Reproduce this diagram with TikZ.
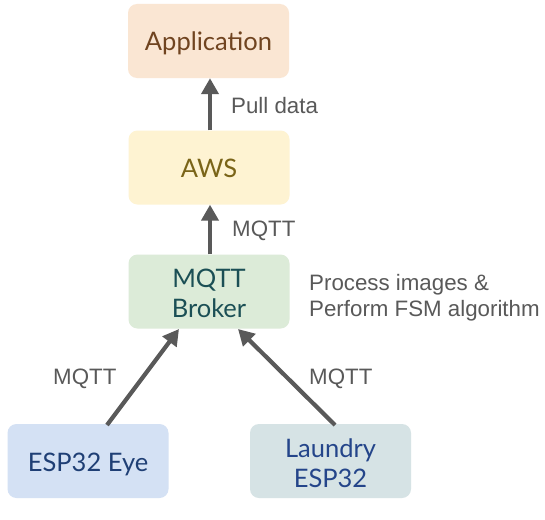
\documentclass[tikz,border=0pt]{standalone}
\usepackage{fontspec}
\setmainfont{Liberation Sans}
\newfontfamily\boxfont{Lato}
\usetikzlibrary{arrows.meta}
\definecolor{arrowgray}{HTML}{595959}
\definecolor{appfill}{HTML}{FAE6D3}
\definecolor{apptext}{HTML}{704420}
\definecolor{awsfill}{HTML}{FEF3D2}
\definecolor{awstext}{HTML}{7A6418}
\definecolor{brkfill}{HTML}{DCEBD8}
\definecolor{brktext}{HTML}{1B4F55}
\definecolor{eyefill}{HTML}{D4E1F4}
\definecolor{eyetext}{HTML}{1F3F75}
\definecolor{lndfill}{HTML}{D6E3E5}
\definecolor{lndtext}{HTML}{24458A}
\tikzset{
  blk/.style={rounded corners=9pt, minimum width=161pt, minimum height=74pt, inner sep=0pt, align=center,
    font=\boxfont\fontsize{25.5}{30}\selectfont},
  one/.style={text height=25pt, text depth=5pt},
  conn/.style={line width=4.2pt, draw=arrowgray, -{Triangle[length=16pt,width=17pt]}},
  lbl/.style={text=arrowgray, font=\fontsize{22.3}{26}\selectfont, inner sep=0pt, anchor=west, align=left}
}
\begin{document}
\begin{tikzpicture}[x=1pt,y=-1pt]
\useasboundingbox[fill=white] (0,0) rectangle (545,519);
\node[blk, one, fill=appfill, text=apptext] (app) at (208.5,41) {Application};
\node[blk, one, fill=awsfill, text=awstext] (aws) at (209,167.5) {AWS};
\node[blk, fill=brkfill, text=brktext] (brk) at (209,291.5) {\rule{0pt}{6pt}\\[-13pt]MQTT\\Broker};
\node[blk, one, fill=eyefill, text=eyetext] (eye) at (88,461) {ESP32 Eye};
\node[blk, fill=lndfill, text=lndtext] (lnd) at (330.5,461) {\rule{0pt}{6pt}\\[-13pt]Laundry\\ESP32};
\coordinate (eyeS) at (107,425);
\coordinate (brkL) at (179,329);
\coordinate (lndS) at (335,425);
\coordinate (brkR) at (238,329);
\draw[conn] (aws.north -| 210,0) -- (app.south -| 210,0);
\draw[conn] (brk.north -| 210,0) -- (aws.south -| 210,0);
\draw[conn] (eyeS) -- (brkL);
\draw[conn] (lndS) -- (brkR);
\node[lbl] (pull) at (231,106) {Pull data};
\node[lbl] (m1) at (232,231) {MQTT};
\node[lbl] (proc) at (309,298) {Process images \&\\Perform FSM algorithm};
\node[lbl] (m2) at (53,379) {MQTT};
\node[lbl] (m3) at (309,379) {MQTT};
\end{tikzpicture}
\end{document}
